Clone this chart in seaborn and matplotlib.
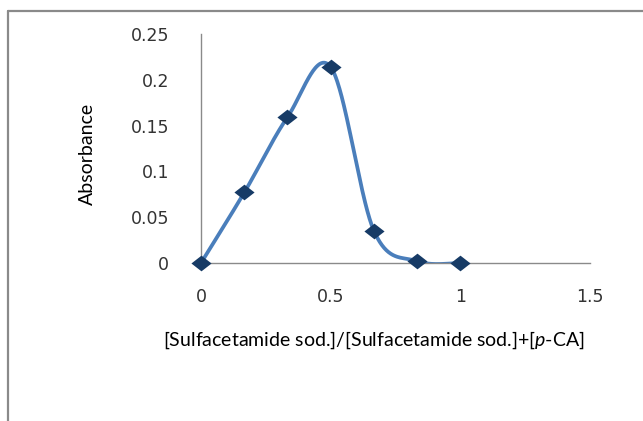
import numpy as np
import pandas as pd
import matplotlib
matplotlib.use("Agg")
import matplotlib.pyplot as plt
import seaborn as sns
from matplotlib.lines import Line2D

# ---- data ----
mole_fraction = [0.0, 0.167, 0.333, 0.5, 0.667, 0.833, 1.0]
absorbance = [0.0, 0.077, 0.159, 0.214, 0.035, 0.002, 0.0]
x_ticks = [0, 0.5, 1, 1.5]
x_tick_labels = ["0", "0.5", "1", "1.5"]
y_ticks = [0, 0.05, 0.1, 0.15, 0.2, 0.25]
y_tick_labels = ["0", "0.05", "0.1", "0.15", "0.2", "0.25"]
x_label = "[Sulfacetamide sod.]/[Sulfacetamide sod.]+[$\\it{p}$-CA]"
y_label = "Absorbance"

sns.set_theme(style="white")
plt.rcParams["font.family"] = ["DejaVu Sans"]
plt.rcParams["mathtext.fontset"] = "custom"
plt.rcParams["mathtext.it"] = "Lato:italic"
plt.rcParams["mathtext.rm"] = "Lato"


def excel_smooth(xs, ys, n=60):
    P = np.column_stack([xs, ys]).astype(float)
    m = len(P)
    ext = np.vstack([P[0], P, P[-1]])
    out = []
    for i in range(m - 1):
        p0, p1 = ext[i + 1], ext[i + 2]
        c1 = p0 + (ext[i + 2] - ext[i]) / 6.0
        c2 = p1 - (ext[i + 3] - ext[i + 1]) / 6.0
        t = np.linspace(0, 1, n)[:, None]
        seg = ((1 - t) ** 3) * p0 + 3 * ((1 - t) ** 2) * t * c1 + 3 * (1 - t) * t ** 2 * c2 + t ** 3 * p1
        out.append(seg if i == 0 else seg[1:])
    return np.vstack(out)


W, H = 643, 421
fig = plt.figure(figsize=(W / 100, H / 100), dpi=100)
fig.patch.set_facecolor("white")
ax = fig.add_axes([201 / W, (H - 263) / H, 389 / W, 229 / H])
ax.set_facecolor("white")

curve = excel_smooth(mole_fraction, absorbance)
df_curve = pd.DataFrame({"x": curve[:, 0], "y": curve[:, 1]})
df_pts = pd.DataFrame({"x": mole_fraction, "y": absorbance})

sns.lineplot(data=df_curve, x="x", y="y", ax=ax, color="#4a7ebb",
             linewidth=2.7, estimator=None, sort=False, zorder=2)
diamond = [(-1, 0), (0, 0.78), (1, 0), (0, -0.78), (-1, 0)]
ax.plot(df_pts["x"], df_pts["y"], linestyle="none", marker=diamond,
        markersize=14.5, color="#173b66", markeredgewidth=0, zorder=3,
        clip_on=False)

ax.set_xlim(0, 1.5)
ax.set_ylim(0, 0.25)
ax.set_xticks(x_ticks)
ax.set_xticklabels(x_tick_labels)
ax.set_yticks(y_ticks)
ax.set_yticklabels(y_tick_labels)
ax.tick_params(axis="both", length=0, labelsize=12.5, colors="#333333")
ax.tick_params(axis="y", pad=23)
ax.tick_params(axis="x", pad=18)
for s in ["top", "right"]:
    ax.spines[s].set_visible(False)
for s in ["left", "bottom"]:
    ax.spines[s].set_color("#8a8a8a")
    ax.spines[s].set_linewidth(1.0)
ax.set_xlabel("")
ax.set_ylabel("")
ax.grid(False)

lab_font = ["Lato", "DejaVu Sans"]
fig.text(374 / W, 1 - 340 / H, x_label, ha="center", va="center",
         fontsize=14.0, family=lab_font, color="black")
fig.text(87 / W, 1 - 154 / H, y_label, ha="center", va="center",
         rotation=90, fontsize=14.0, family=lab_font, color="black")

# outer chart frame
fig.add_artist(Line2D([7.5 / W, 1.0], [1 - 10.5 / H, 1 - 10.5 / H],
                      transform=fig.transFigure, color="#8a8a8a", linewidth=1.6))
fig.add_artist(Line2D([7.5 / W, 7.5 / W], [0, 1 - 10.5 / H],
                      transform=fig.transFigure, color="#8a8a8a", linewidth=1.6))

fig.savefig("out.png", dpi=100, facecolor="white")
